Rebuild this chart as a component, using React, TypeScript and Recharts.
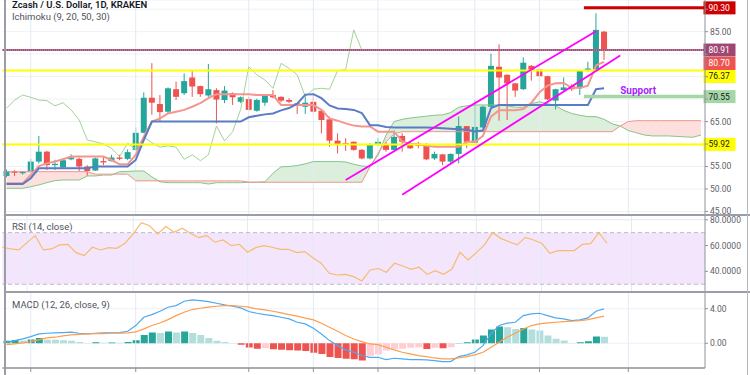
import React from 'react';
import {
  ComposedChart, Bar, Line, Area, XAxis, YAxis, CartesianGrid,
  ReferenceLine, ReferenceArea, ReferenceDot, Cell,
} from 'recharts';

const FONT = 'Roboto, "Liberation Sans", Arial, sans-serif';
const GREEN = '#26a69a';
const RED = '#ef5350';
const GRID = '#eef1f6';
const GRID_V = '#e3eaf4';
const AXIS = '#8f929a';
const TICK = '#5d6068';

// ---- candles (daily) ----
const opens = [
  52.9, 54.0, 53.5, 53.9, 56.1, 58.3, 55.3, 54.8, 56.6, 56.7,
  55.0, 54.1, 56.2, 56.2, 57.0, 56.7, 58.7, 62.5, 70.3, 68.9,
  67.2, 72.2, 71.3, 74.8, 72.9, 70.8, 72.0, 69.8, 71.3, 69.4,
  70.0, 67.4, 69.2, 70.9, 70.5, 69.8, 69.05, 68.3, 69.4, 67.4,
  65.5, 60.75, 60.2, 60.5, 58.7, 56.8, 60.0, 60.0, 58.7, 61.8,
  60.2, 60.0, 60.0, 56.8, 57.7, 56.1, 57.8, 64.0, 60.3, 63.7,
  68.3, 77.2, 75.4, 73.5, 72.2, 77.4, 76.6, 75.1, 69.65, 72.0,
  72.9, 72.4, 76.3, 76.3, 85.0,
];
const highs = [
  54.3, 54.2, 54.0, 56.7, 61.8, 58.5, 56.5, 56.8, 57.7, 57.0,
  55.3, 57.0, 57.2, 57.6, 57.6, 58.8, 63.7, 71.5, 78.0, 70.9,
  72.6, 73.9, 75.7, 76.3, 73.0, 77.8, 72.4, 72.9, 71.5, 70.6,
  70.5, 70.1, 71.0, 72.0, 70.6, 70.2, 69.1, 70.9, 71.3, 67.5,
  66.1, 62.4, 61.3, 60.6, 58.9, 60.2, 61.3, 60.5, 63.0, 62.4,
  60.5, 60.5, 60.2, 58.3, 57.8, 57.9, 66.1, 64.0, 69.8, 68.6,
  80.1, 82.2, 75.5, 73.6, 79.3, 77.6, 76.8, 75.2, 72.3, 74.8,
  73.3, 76.5, 78.3, 89.1, 85.2,
];
const lows = [
  52.6, 52.9, 53.2, 53.6, 55.7, 54.2, 54.2, 54.6, 56.4, 53.9,
  52.9, 54.0, 55.3, 56.1, 56.4, 56.4, 58.5, 62.4, 66.5, 65.1,
  66.9, 69.8, 70.9, 70.5, 70.5, 70.5, 64.6, 69.1, 68.7, 69.1,
  67.5, 67.2, 68.5, 70.2, 69.3, 69.1, 66.7, 66.7, 67.0, 62.4,
  59.4, 57.9, 58.5, 58.5, 56.6, 56.6, 59.6, 58.3, 58.5, 58.3,
  58.9, 59.05, 56.4, 56.45, 55.3, 55.8, 55.7, 59.05, 60.2, 63.5,
  68.3, 65.2, 65.35, 70.5, 72.0, 74.1, 73.9, 69.8, 67.7, 71.9,
  71.8, 70.9, 76.1, 76.1, 78.7,
];
const closes = [
  54.0, 53.6, 53.8, 56.1, 58.3, 55.3, 55.6, 56.4, 57.0, 55.0,
  54.0, 56.8, 55.9, 57.0, 56.7, 58.2, 62.5, 70.3, 69.2, 67.1,
  72.4, 70.5, 74.0, 72.8, 71.1, 72.2, 69.9, 71.9, 70.4, 70.4,
  67.6, 69.8, 70.9, 70.4, 69.65, 69.4, 68.5, 69.2, 67.2, 65.35,
  60.75, 60.0, 60.0, 58.7, 56.8, 60.0, 60.5, 58.7, 61.6, 60.5,
  59.05, 59.6, 56.6, 57.8, 56.1, 57.8, 64.0, 60.5, 63.8, 68.3,
  77.4, 74.8, 73.5, 71.9, 78.1, 76.5, 75.1, 69.95, 72.2, 72.6,
  72.2, 76.3, 76.8, 85.4, 80.7,
];

// ---- Ichimoku (9, 20, 50, 30) ----
const tenkan = [
  51.25, 51.25, 51.25, 53.1, 55.1, 55.7, 56.1, 56.6, 57.2, 57.2,
  57.2, 57.2, 57.2, 56.45, 55.5, 55.5, 57.6, 61.65, 65.0, 65.7,
  66.8, 67.2, 67.6, 68.3, 69.1, 70.2, 71.06, 71.06, 71.06, 71.06,
  71.06, 70.9, 70.9, 70.9, 68.7, 68.7, 68.7, 68.7, 68.7, 67.6,
  65.7, 65.2, 64.6, 64.1, 63.9, 63.9, 62.75, 62.75, 62.75, 60.6,
  60.0, 60.0, 59.6, 59.4, 59.4, 59.4, 59.4, 60.5, 60.5, 61.8,
  66.1, 67.5, 67.5, 67.5, 67.8, 69.2, 71.5, 73.0, 73.5, 73.6,
  72.5, 72.5, 73.0, 77.5, 78.3,
];
const kijun = [
  51.1, 51.1, 51.1, 52.4, 54.6, 54.6, 54.6, 54.6, 54.6, 54.6,
  54.6, 55.0, 55.0, 55.0, 55.0, 55.0, 56.45, 60.9, 65.0, 65.0,
  65.0, 65.0, 65.0, 65.0, 65.0, 65.0, 65.0, 65.0, 65.0, 65.0,
  65.95, 66.3, 66.6, 66.8, 67.5, 68.0, 69.0, 71.0, 71.1, 70.2,
  68.6, 67.9, 67.8, 67.6, 66.9, 64.2, 64.2, 63.8, 63.7, 63.7,
  63.7, 63.7, 63.7, 63.6, 63.5, 63.4, 63.3, 63.2, 62.8, 63.0,
  68.0, 68.7, 68.7, 68.7, 68.7, 68.7, 68.7, 68.7, 68.7, 68.7,
  68.7, 68.7, 68.7, 72.2, 72.4,
];
const chikou = [
  67.95, 69.8, 70.9, 70.4, 69.8, 69.65, 68.5, 69.2, 67.6, 65.35,
  60.9, 60.5, 60.0, 59.05, 57.2, 60.2, 58.8, 61.6, 60.3, 59.3,
  59.6, 59.3, 56.6, 57.6, 56.3, 57.6, 64.0, 60.7, 62.75, 67.7,
  77.2, 75.4, 74.25, 72.4, 77.96, 76.85, 75.4, 70.5, 72.2, 72.4,
  72.2, 76.3, 76.6, 85.4, 80.9,
];
const spanA = [
  50.15, 50.15, 50.15, 50.5, 50.9, 51.4, 51.85, 52.0, 52.0, 52.0,
  52.9, 52.9, 53.1, 53.1, 53.85, 53.9, 54.0, 54.0, 52.7, 51.6,
  51.4, 51.4, 51.4, 51.4, 51.4, 51.1, 51.4, 51.4, 51.4, 51.4,
  51.5, 51.5, 51.6, 53.5, 54.95, 55.0, 55.2, 55.6, 56.1, 56.1,
  56.1, 56.1, 56.0, 55.5, 55.1, 55.0, 57.5, 62.0, 65.0, 65.5,
  65.8, 66.0, 66.2, 66.4, 66.5, 67.0, 68.2, 68.5, 68.7, 68.7,
  68.7, 68.7, 68.5, 68.2, 68.2, 69.0, 69.4, 69.0, 68.5, 67.5,
  66.8, 66.4, 66.1, 66.1, 65.5, 64.5, 64.0, 63.0, 62.5, 62.0,
  61.8, 61.8, 61.8, 61.7, 61.6, 61.5, 62.0,
];
const spanB = [
  53.85, 53.85, 53.85, 53.85, 53.85, 53.85, 53.85, 53.85, 53.85, 53.85,
  53.85, 53.3, 53.3, 53.3, 53.3, 53.3, 51.8, 51.8, 51.8, 51.8,
  51.8, 51.8, 51.8, 51.8, 51.8, 51.8, 51.8, 51.8, 51.8, 51.8,
  51.5, 51.5, 51.5, 51.5, 51.5, 51.5, 51.5, 51.5, 51.5, 51.5,
  51.5, 51.5, 51.5, 51.5, 51.5, 54.9, 57.9, 60.5, 62.3, 62.75,
  62.75, 62.75, 62.75, 62.75, 62.75, 62.75, 62.75, 62.75, 62.75, 62.75,
  62.75, 62.75, 62.75, 62.75, 62.75, 62.75, 62.75, 62.75, 62.75, 62.75,
  62.75, 62.75, 62.75, 62.75, 62.75, 62.75, 64.0, 65.0, 65.2, 65.2,
  65.2, 65.2, 65.2, 65.2, 65.2, 65.2, 65.2,
];

// ---- RSI (14, close) ----
const rsi = [
  58.7, 57.4, 56.6, 62.3, 67.7, 56.6, 57.4, 60.5, 61.0, 54.5,
  52.2, 58.7, 56.6, 58.4, 57.9, 61.8, 69.0, 77.8, 75.4, 69.0,
  74.7, 70.3, 73.4, 69.5, 66.1, 67.7, 62.6, 64.3, 59.9, 61.0,
  54.8, 58.4, 59.9, 58.7, 57.1, 57.1, 54.5, 55.3, 50.6, 46.3,
  38.5, 37.2, 37.7, 35.9, 32.6, 41.1, 42.2, 39.3, 46.3, 44.2,
  41.6, 43.2, 37.7, 40.5, 37.7, 41.6, 54.8, 48.8, 54.5, 60.5,
  70.0, 65.6, 63.0, 60.5, 66.4, 64.3, 61.8, 54.0, 56.1, 56.1,
  56.1, 61.0, 61.5, 70.0, 61.8,
];

// ---- MACD (12, 26, close, 9) ----
const macd = [
  0.12, 0.31, 0.5, 0.77, 1.08, 1.16, 1.2, 1.24, 1.28, 1.16,
  1.08, 1.16, 1.2, 1.2, 1.24, 1.39, 2.05, 3.01, 3.32, 3.7,
  4.17, 4.36, 4.86, 5.01, 4.94, 4.82, 4.63, 4.44, 4.28, 4.09,
  3.67, 3.47, 3.32, 3.2, 3.01, 2.82, 2.43, 2.24, 1.74, 1.08,
  0.31, -0.27, -0.77, -1.04, -1.42, -1.62, -1.62, -1.89, -1.73, -1.81,
  -1.89, -1.89, -1.92, -2.0, -2.12, -2.12, -1.54, -1.35, -1.04, -0.27,
  1.08, 2.05, 2.32, 2.43, 3.2, 3.4, 3.47, 3.2, 2.93, 2.82,
  2.63, 2.7, 2.93, 3.7, 3.97,
];
const signal = [
  -0.15, -0.08, 0.04, 0.19, 0.39, 0.62, 0.7, 0.85, 0.97, 1.04,
  1.08, 1.12, 1.12, 1.16, 1.16, 1.2, 1.31, 1.66, 2.05, 2.35,
  2.74, 3.2, 3.59, 3.9, 4.05, 4.17, 4.28, 4.36, 4.36, 4.28,
  4.17, 3.97, 3.86, 3.7, 3.51, 3.32, 3.13, 2.9, 2.7, 2.32,
  1.86, 1.39, 0.89, 0.5, 0.19, -0.08, -0.15, -0.46, -0.77, -1.04,
  -1.23, -1.42, -1.54, -1.7, -1.81, -1.81, -1.7, -1.54, -1.35, -1.04,
  -0.46, 0.12, 0.7, 1.16, 1.66, 2.05, 2.24, 2.35, 2.43, 2.51,
  2.55, 2.63, 2.74, 2.93, 3.13,
];
const hist = [
  0.3, 0.38, 0.32, 0.45, 0.62, 0.42, 0.4, 0.36, 0.3, 0.15,
  0.04, 0.12, 0.05, 0.08, 0.06, 0.15, 0.35, 0.95, 1.25, 1.2,
  1.35, 1.25, 1.35, 1.2, 0.95, 0.6, 0.3, 0.15, 0.02, -0.18,
  -0.5, -0.62, -0.58, -0.7, -0.75, -0.8, -0.85, -0.9, -1.1, -1.25,
  -1.6, -1.7, -1.8, -1.85, -2.0, -1.45, -1.3, -0.84, -0.65, -0.63,
  -0.53, -0.46, -0.65, -0.53, -0.57, -0.46, 0.04, 0.12, 0.43, 0.89,
  1.58, 1.93, 1.85, 1.66, 1.78, 1.58, 1.47, 0.89, 0.51, 0.31,
  0.04, 0.12, 0.23, 0.77, 0.75,
];

// ---- axes / annotations ----
const priceTicks = [45, 50, 55, 60, 65, 70, 75, 80, 85, 90];
const shownPriceTicks = [45, 50, 55, 65, 85];
const rsiTicks = [40, 60, 80];
const macdTicks = [0, 4];
const gridDays = [3, 16, 30, 38, 46, 58, 66, 77];
const SLOTS = 87;

const histColor = (i: number) => {
  const v = hist[i];
  const p = i > 0 ? hist[i - 1] : v;
  if (v >= 0) return v >= p ? GREEN : '#b2dfdb';
  return v < p ? RED : '#ffcdd2';
};

const rows = Array.from({ length: SLOTS }, (_, i) => {
  const has = i < closes.length;
  const a = spanA[i];
  const b = spanB[i];
  const top = Math.max(a, b);
  return {
    i,
    candle: has ? [lows[i], highs[i]] : null,
    o: has ? opens[i] : null,
    h: has ? highs[i] : null,
    l: has ? lows[i] : null,
    c: has ? closes[i] : null,
    tenkan: has ? tenkan[i] : null,
    kijun: has ? kijun[i] : null,
    chikou: i < chikou.length ? chikou[i] : null,
    spanA: a,
    spanB: b,
    cloudG: [b, top],
    cloudR: [a, top],
    rsi: has ? rsi[i] : null,
    macd: has ? macd[i] : null,
    signal: has ? signal[i] : null,
    hist: has ? hist[i] : null,
    histColor: has ? histColor(i) : GREEN,
  };
});

const Candle = (props: any) => {
  const { x, y, width, height, payload } = props;
  if (!payload || payload.o == null || x == null || y == null) return null;
  const { o, c, h, l } = payload;
  const yTop = Math.min(y, y + height);
  const hPix = Math.abs(height);
  const cx = x + width / 2;
  const span = h - l;
  const toY = (p: number) => (span > 0 ? yTop + ((h - p) / span) * hPix : yTop);
  const bTop = toY(Math.max(o, c));
  const bBot = toY(Math.min(o, c));
  const color = c >= o ? GREEN : RED;
  return (
    <g>
      <line x1={cx} x2={cx} y1={yTop} y2={yTop + hPix} stroke={color} strokeWidth={1} />
      <rect x={cx - 3} y={bTop} width={6} height={Math.max(1, bBot - bTop)} fill={color} />
    </g>
  );
};

const makeTick = (digits: number, shown?: number[]) => (props: any) => {
  const { x, y, payload } = props;
  if (shown && !shown.includes(payload.value)) return <g />;
  return (
    <text x={x} y={y} dy="0.35em" textAnchor="start" fontSize={8.5} fill={TICK} fontFamily={FONT}>
      {Number(payload.value).toFixed(digits)}
    </text>
  );
};

const PriceTag = (props: any) => {
  const { viewBox, text, bg, fg, dy = 0 } = props;
  if (!viewBox) return null;
  const right = viewBox.x + viewBox.width;
  const cy = viewBox.y + dy;
  return (
    <g>
      <rect x={right - 1.5} y={cy - 6.5} width={32} height={13} fill={bg} />
      <text x={right + 3.5} y={cy} dy="0.35em" fontSize={8.5} fill={fg} fontFamily={FONT}>{text}</text>
    </g>
  );
};

const SupportText = (props: any) => {
  const { viewBox } = props;
  if (!viewBox) return null;
  return (
    <text x={viewBox.x} y={viewBox.y} dy="0.35em" fontSize={10} fontWeight="bold" fill="#a526ff" fontFamily={FONT}>
      Support
    </text>
  );
};

const vGrid = (prefix: string) =>
  gridDays.map((d) => (
    <ReferenceLine key={prefix + d} x={d} stroke={GRID_V} strokeWidth={1} position="middle" ifOverflow="visible" />
  ));

const MARGIN = { top: 0, right: 0, bottom: 0, left: 2.5 };

const label = (text: string, top: number, extra: React.CSSProperties = {}) => (
  <div
    style={{
      position: 'absolute', left: 12, top, fontFamily: FONT, fontSize: 9.5,
      lineHeight: '11px', color: '#50535e', whiteSpace: 'nowrap', ...extra,
    }}
  >
    {text}
  </div>
);

export default function App() {
  return (
    <div style={{ position: 'absolute', left: 0, top: 0, width: 750, height: 375, background: '#fff', overflow: 'hidden' }}>
      {/* main price panel */}
      <div style={{ position: 'absolute', left: 0, top: 0 }}>
        <ComposedChart width={750} height={215} data={rows} margin={MARGIN}>
          <CartesianGrid vertical={false} stroke={GRID} />
          <XAxis dataKey="i" type="category" hide />
          <YAxis
            orientation="right" width={45} type="number" domain={[44.21, 92.05]} allowDataOverflow
            ticks={priceTicks} interval={0} tickSize={3} tickMargin={2}
            axisLine={{ stroke: AXIS }} tickLine={{ stroke: AXIS }} tick={makeTick(2, shownPriceTicks)}
          />
          {vGrid('m')}
          <Area type="linear" dataKey="cloudG" stroke="none" fill="#dcefdc" fillOpacity={1} isAnimationActive={false} />
          <Area type="linear" dataKey="cloudR" stroke="none" fill="#fde0de" fillOpacity={1} isAnimationActive={false} />
          <Line type="linear" dataKey="spanA" stroke="#86c58a" strokeWidth={1} dot={false} activeDot={false} isAnimationActive={false} />
          <Line type="linear" dataKey="spanB" stroke="#f1938d" strokeWidth={1} dot={false} activeDot={false} isAnimationActive={false} />
          <Line type="linear" dataKey="chikou" stroke="#a3d398" strokeWidth={1} dot={false} activeDot={false} isAnimationActive={false} />
          <Line type="linear" dataKey="tenkan" stroke="#f5958e" strokeWidth={2} dot={false} activeDot={false} isAnimationActive={false} />
          <Line type="linear" dataKey="kijun" stroke="#5a7cc4" strokeWidth={2} dot={false} activeDot={false} isAnimationActive={false} />
          <Bar dataKey="candle" barSize={6} shape={Candle} isAnimationActive={false} />
          <ReferenceLine y={76.37} stroke="#ffff00" strokeWidth={2}
            label={<PriceTag text="76.37" bg="#ffff00" fg="#131722" dy={6} />} />
          <ReferenceLine y={59.92} stroke="#ffff00" strokeWidth={2}
            label={<PriceTag text="59.92" bg="#ffff00" fg="#131722" dy={0} />} />
          <ReferenceLine y={80.91} stroke="#a34c78" strokeWidth={2}
            label={<PriceTag text="80.91" bg="#a04673" fg="#ffffff" dy={0} />} />
          <ReferenceLine y={80.91} stroke="#d59ab8" strokeWidth={1} strokeDasharray="1 1" />
          <ReferenceLine y={80.7} stroke="none" strokeOpacity={0}
            label={<PriceTag text="80.70" bg="#ef5350" fg="#ffffff" dy={12.5} />} />
          <ReferenceLine segment={[{ x: 71, y: 90.3 }, { x: 86, y: 90.3 }]} position="end" stroke="#cc0000" strokeWidth={3}
            label={<PriceTag text="90.30" bg="#cc0000" fg="#ffffff" dy={0} />} />
          <ReferenceLine segment={[{ x: 71, y: 70.55 }, { x: 86, y: 70.55 }]} position="end" stroke="#a5d6a7" strokeWidth={3.5}
            label={<PriceTag text="70.55" bg="#a5d6a7" fg="#131722" dy={0} />} />
          <ReferenceLine segment={[{ x: 42, y: 52.0 }, { x: 73, y: 85.1 }]} position="middle" stroke="#ff00ff" strokeWidth={1.8} />
          <ReferenceLine segment={[{ x: 49, y: 48.73 }, { x: 76, y: 79.7 }]} position="middle" stroke="#ff00ff" strokeWidth={1.8} />
          <ReferenceDot x={76} y={72.0} r={0} fill="none" stroke="none" label={<SupportText />} />
        </ComposedChart>
      </div>

      {/* RSI panel */}
      <div style={{ position: 'absolute', left: 0, top: 215 }}>
        <ComposedChart width={750} height={77} data={rows} margin={MARGIN}>
          <XAxis dataKey="i" type="category" hide />
          <YAxis
            orientation="right" width={45} type="number" domain={[24.0, 83.7]} allowDataOverflow
            ticks={rsiTicks} interval={0} tickSize={3} tickMargin={2}
            axisLine={{ stroke: AXIS }} tickLine={{ stroke: AXIS }} tick={makeTick(4)}
          />
          <ReferenceArea y1={30} y2={70} fill="#f3e6fc" fillOpacity={1} stroke="none" />
          <CartesianGrid vertical={false} stroke="#e8e4f0" />
          {vGrid('r')}
          <ReferenceLine y={70} stroke="#bdb8c6" strokeDasharray="4 3" />
          <ReferenceLine y={30} stroke="#bdb8c6" strokeDasharray="4 3" />
          <Line type="linear" dataKey="rsi" stroke="#f7bb6e" strokeWidth={1.2} dot={false} activeDot={false} isAnimationActive={false} />
        </ComposedChart>
      </div>

      {/* MACD panel */}
      <div style={{ position: 'absolute', left: 0, top: 292 }}>
        <ComposedChart width={750} height={83} data={rows} margin={MARGIN}>
          <CartesianGrid vertical={false} stroke={GRID} />
          <XAxis
            dataKey="i" type="category" ticks={gridDays} interval={0} height={7} tickSize={4}
            tickFormatter={() => ''} axisLine={{ stroke: AXIS, strokeWidth: 1.5 }} tickLine={{ stroke: AXIS }}
          />
          <YAxis
            orientation="right" width={45} type="number" domain={[-2.86, 5.93]} allowDataOverflow
            ticks={macdTicks} interval={0} tickSize={3} tickMargin={2}
            axisLine={{ stroke: AXIS }} tickLine={{ stroke: AXIS }} tick={makeTick(2)}
          />
          {vGrid('d')}
          <Bar dataKey="hist" barSize={7} isAnimationActive={false}>
            {rows.map((r, k) => (
              <Cell key={k} fill={r.histColor} />
            ))}
          </Bar>
          <Line type="linear" dataKey="macd" stroke="#4fa9f2" strokeWidth={1.2} dot={false} activeDot={false} isAnimationActive={false} />
          <Line type="linear" dataKey="signal" stroke="#ff9d4d" strokeWidth={1.2} dot={false} activeDot={false} isAnimationActive={false} />
        </ComposedChart>
      </div>

      {/* panel frames */}
      <div style={{ position: 'absolute', left: 4, top: 214, width: 746, height: 1.5, background: '#9b9ea6' }} />
      <div style={{ position: 'absolute', left: 4, top: 291, width: 746, height: 1.5, background: '#9b9ea6' }} />
      <div style={{ position: 'absolute', left: 4, top: 0, width: 1.5, height: 375, background: '#9b9ea6' }} />
      <div style={{ position: 'absolute', left: 747, top: 0, width: 1, height: 375, background: '#b5b8bf' }} />

      {label('Zcash / U.S. Dollar, 1D, KRAKEN', -1, { color: '#131722', fontWeight: 600, fontSize: 9.5 })}
      {label('Ichimoku (9, 20, 50, 30)', 11)}
      {label('RSI (14, close)', 221)}
      {label('MACD (12, 26, close, 9)', 299)}
    </div>
  );
}
